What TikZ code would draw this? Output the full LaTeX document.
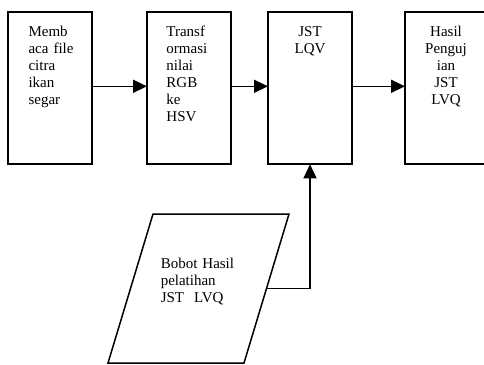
\documentclass[tikz,border=0pt]{standalone}
\usepackage{fontspec}
\setmainfont{Liberation Serif}
\usetikzlibrary{arrows.meta}

\begin{document}
\begin{tikzpicture}[x=1pt,y=-1pt]
        \tikzstyle{every path}=[line width=1.5pt]

        \tikzstyle{box}=[draw,line width=1.8pt,minimum width=84pt,minimum height=152pt,inner sep=0pt,outer sep=0pt,anchor=north west]
        \tikzstyle{txt}=[inner sep=0pt,text width=70pt,font=\fontsize{15}{17}\selectfont]
        \tikzstyle{flow}=[-{Triangle[length=14pt,width=13pt]}]

        \useasboundingbox (0,0) rectangle (484,364);

        % process boxes
        \node [box] (0) at (8.3,12.3) {};
        \node [box] (1) at (147,12.3) {};
        \node [box] (2) at (268,12.3) {};
        \node [box] (3) at (405,12.3) {};

        %texts in the boxes
        \node [txt,align=left,anchor=base west] (0_text) at ([shift={(19.5,24.4)}]0.north west) {Memb\\aca file\\citra\\ikan\\segar};
        \node [txt,align=left,anchor=base west] (1_text) at ([shift={(18.7,24.4)}]1.north west) {Transf\\ormasi\\nilai\\RGB\\ke\\HSV};
        \node [txt,align=center,anchor=base] (2_text) at ([shift={(0,24.4)}]2.north) {JST\\LQV};
        \node [txt,align=center,anchor=base] (3_text) at ([shift={(-1,24.4)}]3.north) {Hasil\\Penguj\\ian\\JST\\LVQ};

        % weights (parallelogram)
        \draw (108,363) coordinate (bobot_sw) -- (153,214) coordinate (bobot_nw)
            -- (289,214) coordinate (bobot_ne) -- (244,363) coordinate (bobot_se) -- cycle;
        \coordinate (bobot_out) at (266.5,288.5);
        \node [txt,text width=100pt,align=left,anchor=base west] (bobot_text) at (160,268.3) {Bobot Hasil\\pelatihan\\JST\ \ LVQ};

        \draw [flow] ([yshift=2pt]0.east) -- ([yshift=2pt]1.west);
        \draw [flow] ([yshift=2pt]1.east) -- ([yshift=2pt]2.west);
        \draw [flow] ([yshift=2pt]2.east) -- ([yshift=2pt]3.west);
        \draw [flow] (bobot_out) -| (2.south);
\end{tikzpicture}
\end{document}
